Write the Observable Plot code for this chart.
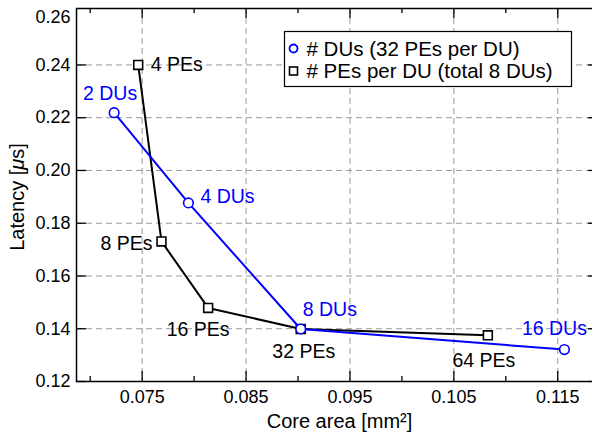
<!DOCTYPE html>
<html><head><meta charset="utf-8">
<script src="https://cdn.jsdelivr.net/npm/d3@7"></script>
<script src="https://cdn.jsdelivr.net/npm/@observablehq/plot@0.6"></script>
<style>
body{margin:0;background:#fff;}
#chart{position:relative;width:592px;height:434px;overflow:hidden;}
</style>
</head><body><div id="chart"></div>
<script>
// ---- data ----
const duArea = [0.0723, 0.07945, 0.09026, 0.11564];
const duLatency = [0.2219, 0.1877, 0.1399, 0.1321];
const duLabels = ["2 DUs", "4 DUs", "8 DUs", "16 DUs"];
const peArea = [0.07462, 0.07686, 0.08135, 0.09026, 0.10827];
const peLatency = [0.2400, 0.1731, 0.1479, 0.1399, 0.1375];
const peLabels = ["4 PEs", "8 PEs", "16 PEs", "32 PEs", "64 PEs"];
const xMajorTicks = [0.075, 0.085, 0.095, 0.105, 0.115];
const xMinorTicks = [0.070, 0.080, 0.090, 0.100, 0.110];
const yTicks = [0.12, 0.14, 0.16, 0.18, 0.20, 0.22, 0.24];
const yTopTick = [0.26];
const seriesNames = ["# DUs (32 PEs per DU)", "# PEs per DU (total 8 DUs)"];
const xLabel = "Core area [mm²]";
const yLabel = "Latency [μs]";

// ---- layout / style ----
const W = 592, H = 434, mL = 76, mR = -6, mT = 8, mB = 53;
const plotW = W - mL - mR, plotH = H - mT - mB;
const BLUE = "#0000ff", FONT = "'Liberation Sans', Arial, Helvetica, sans-serif";
const GRID = {stroke: "#9a9a9a", strokeWidth: 1, strokeDasharray: "6,4"};
const duOffsets = [[-4, -19], [12, -6], [2, -19.5], [-10, -21]];
const duAnchors = ["middle", "start", "start", "middle"];
const peOffsets = [[12.5, 0], [-9, 2], [-10, 22], [3, 23], [-4, 25]];
const peAnchors = ["start", "end", "middle", "middle", "middle"];
const du = duArea.map((_, i) => i);
const pe = peArea.map((_, i) => i);

const chart = Plot.plot({
  width: W, height: H,
  marginLeft: mL, marginRight: mR, marginTop: mT, marginBottom: mB,
  style: {fontSize: "18px", fontFamily: FONT, background: "white", color: "black", overflow: "hidden"},
  x: {domain: [0.06868, 0.11892], ticks: xMajorTicks, tickSize: 0, tickPadding: 9,
      tickFormat: d3.format(".3f"), label: null},
  y: {domain: [0.12, 0.2614], ticks: yTicks, tickSize: 0, tickPadding: 6,
      tickFormat: d3.format(".2f"), label: null},
  marks: [
    Plot.ruleX(xMajorTicks, {x: d => d, ...GRID}),
    Plot.ruleY(yTicks.slice(1), {y: d => d, ...GRID}),
    // inward ticks
    Plot.ruleX(xMajorTicks, {x: d => d, insetTop: plotH - 10, stroke: "black", strokeWidth: 1.3}),
    Plot.ruleX(xMajorTicks, {x: d => d, insetBottom: plotH - 10, stroke: "black", strokeWidth: 1.3}),
    Plot.ruleX(xMinorTicks, {x: d => d, insetTop: plotH - 5, stroke: "black", strokeWidth: 1.3}),
    Plot.ruleX(xMinorTicks, {x: d => d, insetBottom: plotH - 5, stroke: "black", strokeWidth: 1.3}),
    Plot.ruleY(yTicks, {y: d => d, insetRight: plotW - 10, stroke: "black", strokeWidth: 1.3}),
    Plot.ruleY(yTicks, {y: d => d, insetLeft: plotW - 10, stroke: "black", strokeWidth: 1.3}),
    Plot.text(yTopTick, {y: d => d, frameAnchor: "left", dx: -6, dy: 5, textAnchor: "end", lineAnchor: "middle",
      text: d => d3.format(".2f")(d), fontSize: 18}),
    // series: PEs (black)
    Plot.line(pe, {x: i => peArea[i], y: i => peLatency[i], stroke: "black", strokeWidth: 2}),
    Plot.dot(pe, {x: i => peArea[i], y: i => peLatency[i], symbol: "square", r: 5, stroke: "black", strokeWidth: 1.6, fill: "white"}),
    // series: DUs (blue)
    Plot.line(du, {x: i => duArea[i], y: i => duLatency[i], stroke: BLUE, strokeWidth: 2}),
    Plot.dot(du, {x: i => duArea[i], y: i => duLatency[i], symbol: "circle", r: 4.8, stroke: BLUE, strokeWidth: 1.6, fill: "white"}),
    // point labels
    ...du.map(i => Plot.text([i], {x: j => duArea[j], y: j => duLatency[j], text: j => duLabels[j],
      dx: duOffsets[i][0], dy: duOffsets[i][1], textAnchor: duAnchors[i], fill: BLUE, fontSize: 19.5})),
    ...pe.map(i => Plot.text([i], {x: j => peArea[j], y: j => peLatency[j], text: j => peLabels[j],
      dx: peOffsets[i][0], dy: peOffsets[i][1], textAnchor: peAnchors[i], fill: "black", fontSize: 19.5})),
    // axis titles
    Plot.text([xLabel], {frameAnchor: "bottom", dx: 2, dy: 40, textAnchor: "middle", lineAnchor: "middle", text: d => d, fontSize: 20}),
    Plot.text([yLabel], {frameAnchor: "left", dx: -59, dy: 2, rotate: -90, textAnchor: "middle", lineAnchor: "middle", text: d => d, fontSize: 20}),
    Plot.frame({stroke: "black", strokeWidth: 1.5})
  ]
});
document.getElementById("chart").appendChild(chart);

const svg = d3.select(chart);
// italic mu in the y-axis title
svg.selectAll("text").filter(function () { return this.textContent === yLabel; }).each(function () {
  const t = d3.select(this);
  const [pre, post] = yLabel.split("μ");
  t.text(null);
  t.append("tspan").text(pre);
  t.append("tspan").attr("font-style", "italic").text("μ");
  t.append("tspan").text(post);
});

// ---- legend (inside the plot area, top right) ----
const lg = svg.append("g").attr("font-family", FONT).attr("font-size", 20.5).attr("text-anchor", "start");
lg.append("rect").attr("x", 284.5).attr("y", 31.5).attr("width", 287).attr("height", 55)
  .attr("fill", "white").attr("stroke", "black").attr("stroke-width", 1.2);
const rows = [48.5, 71];
lg.append("circle").attr("cx", 293.5).attr("cy", rows[0]).attr("r", 4)
  .attr("fill", "none").attr("stroke", BLUE).attr("stroke-width", 1.8);
lg.append("rect").attr("x", 289.5).attr("y", rows[1] - 4).attr("width", 8).attr("height", 8)
  .attr("fill", "none").attr("stroke", "black").attr("stroke-width", 1.6);
seriesNames.forEach((s, i) => {
  lg.append("text").attr("x", 306.5).attr("y", rows[i]).attr("dy", "0.35em").attr("text-anchor", "start").text(s);
});
</script>
</body></html>
